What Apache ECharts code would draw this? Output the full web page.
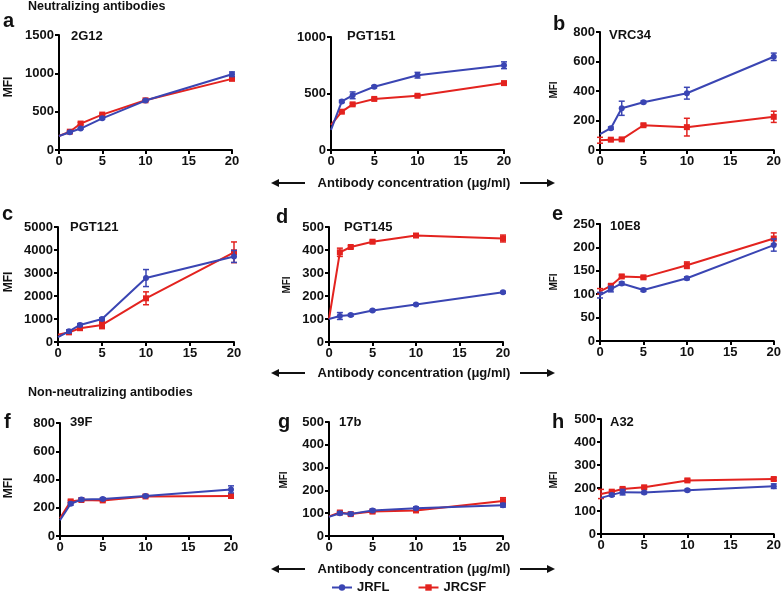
<!DOCTYPE html>
<html><head><meta charset="utf-8">
<script src="https://cdn.jsdelivr.net/npm/echarts@6/dist/echarts.min.js"></script>
<style>html,body{margin:0;padding:0;background:#fff}#c{width:784px;height:593px}</style>
</head><body><div id="c"></div>
<script>
const conc = [0, 1.25, 2.5, 5, 10, 20];
const xTicks = [0, 5, 10, 15, 20];
const panelNames = ['2G12', 'PGT151', 'VRC34', 'PGT121', 'PGT145', '10E8', '39F', '17b', 'A32'];
const panelLetters = ['a', '', 'b', 'c', 'd', 'e', 'f', 'g', 'h'];
const yMax = [1500, 1000, 800, 5000, 500, 250, 800, 500, 500];
const yStep = [500, 500, 200, 1000, 100, 50, 200, 100, 100];

const jrfl_2G12 = [183, 232, 280, 413, 645, 988];
const jrfl_2G12_err = [0, 10, 10, 12, 10, 30];
const jrcsf_2G12 = [183, 239, 345, 462, 648, 928];
const jrcsf_2G12_err = [0, 10, 15, 12, 10, 15];

const jrfl_PGT151 = [178, 430, 484, 560, 662, 750];
const jrfl_PGT151_err = [0, 10, 30, 10, 25, 30];
const jrcsf_PGT151 = [222, 339, 404, 452, 480, 592];
const jrcsf_PGT151_err = [0, 10, 10, 8, 8, 10];

const jrfl_VRC34 = [108, 148, 283, 324, 385, 632];
const jrfl_VRC34_err = [0, 8, 48, 8, 40, 25];
const jrcsf_VRC34 = [66, 70, 72, 168, 155, 225];
const jrcsf_VRC34_err = [20, 8, 8, 8, 60, 38];

const jrfl_PGT121 = [210, 464, 740, 1000, 2780, 3720];
const jrfl_PGT121_err = [0, 60, 60, 50, 370, 260];
const jrcsf_PGT121 = [320, 420, 600, 740, 1900, 3900];
const jrcsf_PGT121_err = [0, 80, 60, 160, 280, 450];

const jrfl_PGT145 = [100, 113, 117, 137, 163, 216];
const jrfl_PGT145_err = [0, 15, 5, 4, 4, 4];
const jrcsf_PGT145 = [100, 390, 413, 436, 463, 450];
const jrcsf_PGT145_err = [0, 18, 6, 6, 5, 15];

const jrfl_10E8 = [98, 111, 123, 109, 134, 205];
const jrfl_10E8_err = [6, 6, 3, 3, 3, 13];
const jrcsf_10E8 = [106, 118, 138, 136, 162, 219];
const jrcsf_10E8_err = [6, 3, 3, 3, 7, 12];

const jrfl_39F = [111, 228, 258, 262, 283, 330];
const jrfl_39F_err = [0, 10, 10, 8, 8, 25];
const jrcsf_39F = [125, 245, 255, 252, 280, 283];
const jrcsf_39F_err = [0, 8, 6, 8, 8, 8];

const jrfl_17b = [84, 100, 97, 112, 122, 135];
const jrfl_17b_err = [0, 6, 6, 6, 6, 8];
const jrcsf_17b = [86, 103, 96, 107, 112, 153];
const jrcsf_17b_err = [0, 6, 6, 6, 6, 15];

const jrfl_A32 = [157, 170, 182, 180, 190, 208];
const jrfl_A32_err = [0, 6, 12, 5, 5, 10];
const jrcsf_A32 = [174, 184, 196, 203, 233, 239];
const jrcsf_A32_err = [20, 6, 6, 6, 6, 6];

const JRFL = [jrfl_2G12, jrfl_PGT151, jrfl_VRC34, jrfl_PGT121, jrfl_PGT145, jrfl_10E8, jrfl_39F, jrfl_17b, jrfl_A32];
const JRFL_ERR = [jrfl_2G12_err, jrfl_PGT151_err, jrfl_VRC34_err, jrfl_PGT121_err, jrfl_PGT145_err, jrfl_10E8_err, jrfl_39F_err, jrfl_17b_err, jrfl_A32_err];
const JRCSF = [jrcsf_2G12, jrcsf_PGT151, jrcsf_VRC34, jrcsf_PGT121, jrcsf_PGT145, jrcsf_10E8, jrcsf_39F, jrcsf_17b, jrcsf_A32];
const JRCSF_ERR = [jrcsf_2G12_err, jrcsf_PGT151_err, jrcsf_VRC34_err, jrcsf_PGT121_err, jrcsf_PGT145_err, jrcsf_10E8_err, jrcsf_39F_err, jrcsf_17b_err, jrcsf_A32_err];

// layout
const grids = [
  {left: 59, top: 35, width: 173, height: 115},
  {left: 331, top: 37, width: 173, height: 113},
  {left: 600, top: 32, width: 177, height: 118},
  {left: 58, top: 227, width: 176, height: 115},
  {left: 329, top: 227, width: 174, height: 115},
  {left: 600, top: 224, width: 176, height: 117},
  {left: 60, top: 423, width: 171, height: 113},
  {left: 329, top: 422, width: 174, height: 114},
  {left: 601, top: 419, width: 176, height: 115}
];
const titlePos = [[71,37],[347,37],[609,36],[70,228],[344,228],[610,227],[70,423],[339,423],[610,423]];
const letterPos = [[3,22],null,[553,25],[2,215],[276,218],[552,215],[4,423],[278,423],[552,423]];
const mfiPos = [[9,87,12],null,[554,90,10],[9,282,12],[287,285,10],[554,282,10],[9,488,12],[284,480,10],[554,480,10]];
const arrowY = [183, 373, 569];

const BLUE = '#3a45b3';
const RED = '#e3231f';
const FONT = '"Liberation Sans", Arial, sans-serif';

const xAxes = [], yAxes = [], series = [], graphics = [];
grids.forEach((g, i) => {
  xAxes.push({
    gridIndex: i, type: 'value', min: 0, max: 20, interval: 5,
    axisLine: {show: true, lineStyle: {color: '#000', width: 2}},
    axisTick: {show: true, length: 4, lineStyle: {color: '#000', width: 2}},
    axisLabel: {fontFamily: FONT, fontWeight: 'bold', fontSize: 13, color: '#111', margin: 5, formatter: v => String(v)},
    splitLine: {show: false}
  });
  yAxes.push({
    gridIndex: i, type: 'value', min: 0, max: yMax[i], interval: yStep[i],
    axisLine: {show: true, lineStyle: {color: '#000', width: 2}},
    axisTick: {show: true, length: 4, lineStyle: {color: '#000', width: 2}},
    axisLabel: {fontFamily: FONT, fontWeight: 'bold', fontSize: 13, color: '#111', margin: 5, formatter: v => String(v)},
    splitLine: {show: false}
  });
  const mk = (vals) => vals.map((v, k) => k === 0 ? {value: [conc[k], v], symbol: 'none'} : {value: [conc[k], v]});
  const errSeries = (vals, errs, color) => ({
    type: 'custom', xAxisIndex: i, yAxisIndex: i, z: 3,
    data: vals.map((v, k) => [conc[k], v - errs[k], v + errs[k]]).filter((d, k) => errs[k] > 0),
    renderItem: (params, api) => {
      const lo = api.coord([api.value(0), api.value(1)]);
      const hi = api.coord([api.value(0), api.value(2)]);
      const hw = 3;
      const st = {stroke: color, lineWidth: 1.5};
      return {type: 'group', children: [
        {type: 'line', shape: {x1: lo[0], y1: lo[1], x2: hi[0], y2: hi[1]}, style: st},
        {type: 'line', shape: {x1: lo[0]-hw, y1: lo[1], x2: lo[0]+hw, y2: lo[1]}, style: st},
        {type: 'line', shape: {x1: hi[0]-hw, y1: hi[1], x2: hi[0]+hw, y2: hi[1]}, style: st}
      ]};
    }
  });
  series.push({
    name: 'JRCSF', type: 'line', xAxisIndex: i, yAxisIndex: i, data: mk(JRCSF[i]),
    symbol: 'rect', symbolSize: 6, color: RED, lineStyle: {width: 2, color: RED},
    itemStyle: {color: RED}, z: 2
  });
  series.push(errSeries(JRCSF[i], JRCSF_ERR[i], RED));
  series.push({
    name: 'JRFL', type: 'line', xAxisIndex: i, yAxisIndex: i, data: mk(JRFL[i]),
    symbol: 'circle', symbolSize: 6, color: BLUE, lineStyle: {width: 2, color: BLUE},
    itemStyle: {color: BLUE}, z: 4
  });
  series.push(errSeries(JRFL[i], JRFL_ERR[i], BLUE));

  graphics.push({type: 'text', left: titlePos[i][0], top: titlePos[i][1] - 7,
    style: {text: panelNames[i], font: 'bold 13px ' + FONT, fill: '#111'}});
  if (letterPos[i]) graphics.push({type: 'text', left: letterPos[i][0], top: letterPos[i][1] - 11,
    style: {text: panelLetters[i], font: 'bold 20px ' + FONT, fill: '#111'}});
  if (mfiPos[i]) graphics.push({type: 'text', x: mfiPos[i][0], y: mfiPos[i][1], rotation: Math.PI / 2,
    style: {text: 'MFI', font: 'bold ' + mfiPos[i][2] + 'px ' + FONT, fill: '#111', align: 'center', verticalAlign: 'middle'}});
});

graphics.push({type: 'text', left: 28, top: 0, style: {text: 'Neutralizing antibodies', font: 'bold 12.5px ' + FONT, fill: '#111'}});
graphics.push({type: 'text', left: 28, top: 386, style: {text: 'Non-neutralizing antibodies', font: 'bold 12.5px ' + FONT, fill: '#111'}});
arrowY.forEach(y => {
  graphics.push({type: 'text', x: 414, y: y, style: {text: 'Antibody concentration (\u03bcg/ml)', font: 'bold 13px ' + FONT, fill: '#111', align: 'center', verticalAlign: 'middle'}});
  graphics.push({type: 'line', shape: {x1: 276, y1: y, x2: 305, y2: y}, style: {stroke: '#111', lineWidth: 2}});
  graphics.push({type: 'polygon', shape: {points: [[271, y], [279, y - 4], [279, y + 4]]}, style: {fill: '#111'}});
  graphics.push({type: 'line', shape: {x1: 520, y1: y, x2: 550, y2: y}, style: {stroke: '#111', lineWidth: 2}});
  graphics.push({type: 'polygon', shape: {points: [[555, y], [547, y - 4], [547, y + 4]]}, style: {fill: '#111'}});
});

const chart = echarts.init(document.getElementById('c'), null, {renderer: 'canvas'});
chart.setOption({
  animation: false,
  backgroundColor: '#fff',
  grid: grids.map(g => Object.assign({containLabel: false}, g)),
  xAxis: xAxes, yAxis: yAxes, series: series,
  legend: {data: ['JRFL', 'JRCSF'], left: 331, top: 581, padding: 0, itemWidth: 20, itemHeight: 8, itemGap: 28,
    textStyle: {fontFamily: FONT, fontWeight: 'bold', fontSize: 13, color: '#111'}},
  graphic: graphics
});
</script></body></html>
